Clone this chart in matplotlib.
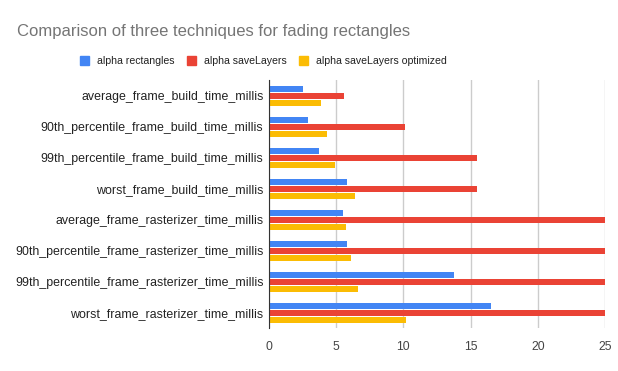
import numpy as np
from matplotlib import pyplot as plt
from matplotlib.patches import Patch

plt.rcParams['font.family'] = ['Liberation Sans', 'DejaVu Sans']

categories = ['average_frame_build_time_millis',
              '90th_percentile_frame_build_time_millis',
              '99th_percentile_frame_build_time_millis',
              'worst_frame_build_time_millis',
              'average_frame_rasterizer_time_millis',
              '90th_percentile_frame_rasterizer_time_millis',
              '99th_percentile_frame_rasterizer_time_millis',
              'worst_frame_rasterizer_time_millis']
alpha_rect = [2.5, 2.9, 3.7, 5.8, 5.5, 5.8, 13.8, 16.5]
alpha_save = [5.6, 10.1, 15.5, 15.5, 32.0, 38.0, 45.0, 60.0]
alpha_save_opt = [3.9, 4.3, 4.9, 6.4, 5.7, 6.1, 6.6, 10.2]
series = ['alpha rectangles', 'alpha saveLayers', 'alpha saveLayers optimized']
colors = ['#4285f4', '#ea4335', '#fbbc04']

fig = plt.figure(figsize=(6.18, 3.71), dpi=100)
ax = fig.add_axes([0.4353, 0.1146, 0.5437, 0.6685])

y = np.arange(len(categories))
h = 0.165
off = 0.226
for i, (vals, c) in enumerate(zip([alpha_rect, alpha_save, alpha_save_opt], colors)):
    ax.barh(y + (i - 1) * off, vals, height=h, color=c, zorder=3)

ax.set_xlim(0, 25)
ax.set_ylim(len(categories) - 0.5, -0.5)
ax.set_xticks([0, 5, 10, 15, 20, 25])
ax.set_yticks(y)
ax.set_yticklabels(categories, fontsize=8.9, color='#222222')
ax.tick_params(axis='x', labelsize=8.8, colors='#444444', length=0, pad=9)
ax.tick_params(axis='y', length=0, pad=4)
ax.grid(axis='x', color='#cccccc', linewidth=1, zorder=0)
for s in ['top', 'right', 'bottom']:
    ax.spines[s].set_visible(False)
ax.spines['left'].set_color('#333333')
ax.spines['left'].set_zorder(4)

fig.text(0.028, 0.915, 'Comparison of three techniques for fading rectangles',
         fontsize=12, color='#757575', va='center', ha='left')

handles = [Patch(facecolor=c, edgecolor=c) for c in colors]
fig.legend(handles, series, loc='center', bbox_to_anchor=(0.4264, 0.835), ncol=3,
           frameon=False, fontsize=7.6, handlelength=0.85, handleheight=0.85,
           handletextpad=0.75, columnspacing=1.2, labelcolor='#222222')

plt.savefig('out.png', dpi=100)
